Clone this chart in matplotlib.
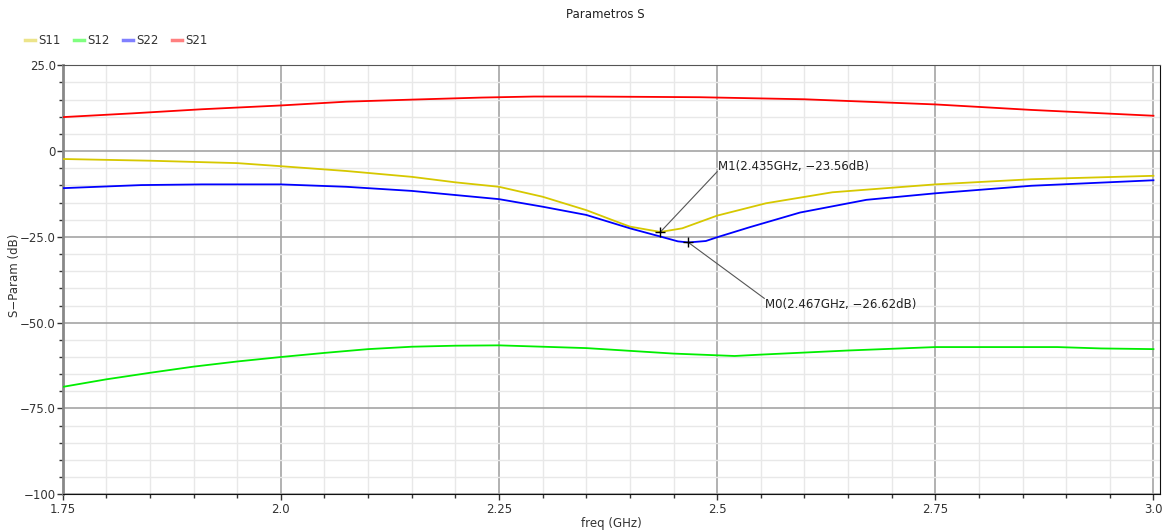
import matplotlib
matplotlib.use("Agg")
import matplotlib.pyplot as plt
from matplotlib.lines import Line2D
from matplotlib.ticker import MultipleLocator, FixedLocator

# ---- data ----
f11 = [1.75, 1.85, 1.95, 2.0, 2.075, 2.15, 2.2, 2.25, 2.3, 2.35, 2.38, 2.40, 2.435,
       2.46, 2.5, 2.556, 2.632, 2.75, 2.86, 3.0]
s11 = [-2.3, -2.8, -3.5, -4.4, -5.8, -7.5, -9.1, -10.4, -13.3, -17.2, -20.1, -22.0, -23.56,
       -22.5, -18.8, -15.2, -12.0, -9.7, -8.2, -7.2]

f12 = [1.75, 1.80, 1.85, 1.90, 1.95, 2.0, 2.05, 2.10, 2.15, 2.20, 2.25, 2.30, 2.35, 2.40,
       2.45, 2.50, 2.52, 2.55, 2.60, 2.65, 2.70, 2.75, 2.89, 2.94, 3.0]
s12 = [-68.7, -66.5, -64.6, -62.8, -61.3, -60.0, -58.8, -57.7, -57.0, -56.7, -56.6, -57.0,
       -57.4, -58.2, -59.0, -59.5, -59.7, -59.3, -58.7, -58.1, -57.6, -57.1, -57.1, -57.5, -57.7]

f22 = [1.75, 1.79, 1.84, 1.91, 2.0, 2.075, 2.15, 2.2, 2.25, 2.3, 2.35, 2.40, 2.435, 2.455,
       2.467, 2.487, 2.5, 2.537, 2.595, 2.671, 2.75, 2.86, 3.0]
s22 = [-10.8, -10.4, -9.9, -9.7, -9.7, -10.4, -11.6, -12.8, -14.0, -16.2, -18.6, -22.5,
       -24.9, -26.3, -26.62, -26.2, -25.1, -22.2, -17.9, -14.2, -12.3, -10.1, -8.5]

f21 = [1.75, 1.83, 1.91, 2.0, 2.075, 2.15, 2.23, 2.29, 2.35, 2.42, 2.48, 2.6, 2.75, 2.86, 3.0]
s21 = [9.9, 11.0, 12.2, 13.3, 14.4, 15.0, 15.6, 15.9, 15.9, 15.8, 15.7, 15.1, 13.6, 12.0, 10.3]

series_names = ["S11", "S12", "S22", "S21"]

x_ticks = [1.75, 2.0, 2.25, 2.5, 2.75, 3.0]
x_ticklabels = ["1.75", "2.0", "2.25", "2.5", "2.75", "3.0"]
y_ticks = [25, 0, -25, -50, -75, -100]
y_ticklabels = ["25.0", "0", "\u221225.0", "\u221250.0", "\u221275.0", "\u2212100"]

markers = [("M1", 2.435, -23.56), ("M0", 2.467, -26.62)]
marker_line_end = [(2.500, -6.0), (2.554, -42.9)]
marker_text_pos = [(2.5005, -4.5), (2.5545, -44.6)]

# ---- figure ----
plt.rcParams['font.family'] = ['DejaVu Sans']
fig = plt.figure(figsize=(11.66, 5.32), dpi=100)
ax = fig.add_axes([62.7 / 1166, 1 - 494.3 / 532, (1160 - 62.7) / 1166, (494.3 - 65.3) / 532])

colors = {"S11": "#d6c800", "S12": "#00ee00", "S22": "#0000ff", "S21": "#ff0000"}
legend_colors = {"S11": "#ece48a", "S12": "#80ff80", "S22": "#8080ff", "S21": "#ff8080"}
data = {"S11": (f11, s11), "S12": (f12, s12), "S22": (f22, s22), "S21": (f21, s21)}

for name in series_names:
    fx, fy = data[name]
    ax.plot(fx, fy, color=colors[name], lw=1.3, zorder=3)

ax.set_xlim(1.75, 3.0075)
ax.set_ylim(-100, 25)

ax.xaxis.set_major_locator(FixedLocator(x_ticks))
ax.set_xticklabels(x_ticklabels)
ax.xaxis.set_minor_locator(MultipleLocator(0.05))
ax.yaxis.set_major_locator(FixedLocator(y_ticks))
ax.set_yticklabels(y_ticklabels)
ax.yaxis.set_minor_locator(MultipleLocator(5))

ax.grid(which='minor', color='#e8e8e8', lw=1.0, zorder=0)
ax.grid(which='major', color='#a4a4a4', lw=1.2, zorder=1)
ax.set_axisbelow(True)

ax.tick_params(which='both', direction='out', colors='#333333', labelsize=8.5, pad=2)
ax.tick_params(which='major', length=4, width=1)
ax.tick_params(which='minor', length=3, width=1)
ax.tick_params(axis='y', which='major', pad=1)

ax.spines["left"].set_color('#888888')
ax.spines["left"].set_linewidth(2)
ax.spines["top"].set_color('#555555')
ax.spines["bottom"].set_color('#111111')
ax.spines["right"].set_color('#111111')

ax.set_xlabel("freq (GHz)", fontsize=8.5, color='#333333')
ax.xaxis.set_label_coords(0.5, -(523 - 494.3) / 429.0)
ax.xaxis.label.set_va('center')
ax.set_ylabel("S\u2212Param (dB)", fontsize=8.5, color='#333333')
ax.yaxis.set_label_coords(-(62.7 - 15) / 1097.3, (494.3 - 275) / 429.0)
ax.yaxis.label.set_va('center')

fig.text(605 / 1166, 1 - 15 / 532, "Parametros S", fontsize=8.5, color='#222222',
         ha='center', va='center')

# legend
leg_handles = [Line2D([], [], color=legend_colors[n], lw=2.5) for n in series_names]
leg = fig.legend(leg_handles, series_names, loc='center left',
                 bbox_to_anchor=(20 / 1166, 1 - 41 / 532), ncol=4, frameon=False,
                 fontsize=8.5, handlelength=0.85, handletextpad=0.3, columnspacing=1.1,
                 borderaxespad=0)
for t in leg.get_texts():
    t.set_color('#333333')

# markers
for (lbl, mx, my), (lx, ly), (tx, ty) in zip(markers, marker_line_end, marker_text_pos):
    ax.plot([mx, lx], [my, ly], color='#555555', lw=0.8, zorder=5)
    ax.plot([mx], [my], marker='+', color='black', ms=7, mew=1, zorder=6)
    ax.text(tx, ty, f"{lbl}({mx:.3f}GHz, \u2212{abs(my):.2f}dB)",
            fontsize=8.5, color='#222222', va='center', ha='left', zorder=6)

fig.savefig("out.png", dpi=100)
